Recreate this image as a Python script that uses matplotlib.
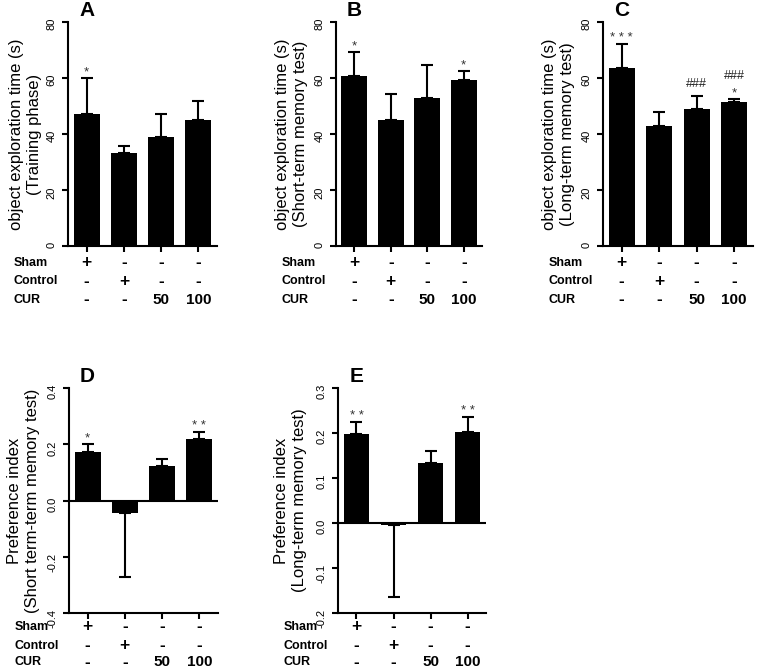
"""Object exploration / preference index bar panels (A-E)"""

import matplotlib
matplotlib.use('Agg')  # no display
import matplotlib.pyplot as plt
import numpy as np

plt.rcParams['font.family'] = ['Liberation Sans', 'DejaVu Sans']

# groups: Sham, Control, CUR 50, CUR 100
sham_row = ['+', '-', '-', '-']
control_row = ['-', '+', '-', '-']
cur_row = ['-', '-', '50', '100']
row_names = ['Sham', 'Control', 'CUR']

# A - training phase
mean_A = [47.2, 33.4, 38.9, 44.9]
sem_A = [12.7, 2.3, 8.2, 6.9]
stars_A = ['*', '', '', '']
hash_A = ['', '', '', '']

# B - short-term memory test
mean_B = [60.6, 44.9, 52.9, 59.4]
sem_B = [8.6, 9.3, 11.6, 3.1]
stars_B = ['*', '', '', '*']
hash_B = ['', '', '', '']

# C - long-term memory test
mean_C = [63.6, 42.7, 48.9, 51.3]
sem_C = [8.5, 5.1, 4.8, 1.2]
stars_C = ['***', '', '', '*']
hash_C = ['', '', '###', '###']

# D - preference index, short term
mean_D = [0.174, -0.044, 0.124, 0.218]
sem_D = [0.026, 0.229, 0.024, 0.027]
stars_D = ['*', '', '', '**']
hash_D = ['', '', '', '']

# E - preference index, long term
mean_E = [0.197, -0.005, 0.133, 0.203]
sem_E = [0.028, 0.160, 0.028, 0.033]
stars_E = ['**', '', '', '**']
hash_E = ['', '', '', '']

yticks_A = [0, 20, 40, 60, 80]
yticks_D = [-0.4, -0.2, 0.0, 0.2, 0.4]
yticks_E = [-0.2, -0.1, 0.0, 0.1, 0.2, 0.3]


def draw_panel(fig, rect, letter, means, sems, stars, hashes, yticks, fmt,
               ylabel, label_px, row_dy):
    ax = fig.add_axes(rect)
    x = np.arange(len(means))
    means = np.array(means)
    sems = np.array(sems)

    ax.bar(x, means, width=0.7, color='black', edgecolor='none', zorder=2)
    lower = np.where(means < 0, sems, 0)
    upper = np.where(means >= 0, sems, 0)
    ax.errorbar(x, means, yerr=[lower, upper], fmt='none', ecolor='black',
                elinewidth=1.5, capsize=4, capthick=1.5, zorder=3)

    ax.set_xlim(-0.5, 3.5)
    ax.set_ylim(yticks[0], yticks[-1])
    ax.set_yticks(yticks)
    ax.set_yticklabels([fmt.format(t) for t in yticks])
    ax.set_xticks(x)
    ax.set_xticklabels([])

    if yticks[0] < 0:
        ax.axhline(0, color='black', lw=1.5, zorder=4)

    for side in ['top', 'right']:
        ax.spines[side].set_visible(False)
    for side in ['left', 'bottom']:
        ax.spines[side].set_linewidth(1.5)

    ax.tick_params(axis='both', direction='out', length=4.3, width=1.5)
    ax.tick_params(axis='y', labelsize=8, labelrotation=90, pad=4)

    ax.set_ylabel(ylabel, fontsize=12, va='center', linespacing=1.2)
    ax.yaxis.set_label_coords(-label_px / (rect[2] * 758), 0.5)

    # significance marks
    for i, (m, s) in enumerate(zip(means, sems)):
        top = m + s
        dy = 2
        if stars[i]:
            ax.annotate(' '.join(stars[i]), xy=(i, top), xytext=(0, dy),
                        textcoords='offset points', ha='center', va='baseline',
                        fontsize=9.5, color='#333333', annotation_clip=False)
            dy += 12
        else:
            dy += 4
        if hashes[i]:
            ax.annotate(hashes[i], xy=(i, top), xytext=(0, dy),
                        textcoords='offset points', ha='center', va='baseline',
                        fontsize=9, color='#222222', annotation_clip=False)

    # panel letter
    ax.annotate(letter, xy=(0, 1), xycoords=('data', 'axes fraction'),
                xytext=(0, 8), textcoords='offset points', ha='center',
                va='center', fontsize=15, fontweight='bold',
                annotation_clip=False)

    # treatment table under the bars
    rows = [sham_row, control_row, cur_row]
    for r, (name, vals) in enumerate(zip(row_names, rows)):
        ax.annotate(name, xy=(0, 0), xycoords='axes fraction',
                    xytext=(-39, -row_dy[r]), textcoords='offset points',
                    ha='left', va='center', fontsize=9, fontweight='bold',
                    annotation_clip=False)
        for i, v in enumerate(vals):
            size = 12.5 if v in ('+', '-') else 11
            ax.annotate(v, xy=(i, 0), xycoords=('data', 'axes fraction'),
                        xytext=(0, -row_dy[r]), textcoords='offset points',
                        ha='center', va='center', fontsize=size,
                        fontweight='bold', annotation_clip=False)
    return ax


fig = plt.figure(figsize=(7.58, 6.72), dpi=100)

top_rows = [12, 25, 38.5]
bot_rows = [10, 23.5, 35.5]

draw_panel(fig, [0.0897, 0.6335, 0.1966, 0.3342], 'A', mean_A, sem_A,
           stars_A, hash_A, yticks_A, '{:.0f}',
           'object exploration time (s)\n(Training phase)', 42.5, top_rows)
draw_panel(fig, [0.4433, 0.6335, 0.1926, 0.3342], 'B', mean_B, sem_B,
           stars_B, hash_B, yticks_A, '{:.0f}',
           'object exploration time (s)\n(Short-term memory test)', 44.5, top_rows)
draw_panel(fig, [0.7955, 0.6335, 0.1979, 0.3342], 'C', mean_C, sem_C,
           stars_C, hash_C, yticks_A, '{:.0f}',
           'object exploration time (s)\n(Long-term memory test)', 44.5, top_rows)
draw_panel(fig, [0.0910, 0.0878, 0.1966, 0.3348], 'D', mean_D, sem_D,
           stars_D, hash_D, yticks_D, '{:.1f}',
           'Preference index\n(Short term-term memory test)', 45.5, bot_rows)
draw_panel(fig, [0.4459, 0.0878, 0.1953, 0.3348], 'E', mean_E, sem_E,
           stars_E, hash_E, yticks_E, '{:.1f}',
           'Preference index\n(Long-term memory test)', 47.5, bot_rows)

fig.savefig('out.png', dpi=100)
plt.close(fig)
